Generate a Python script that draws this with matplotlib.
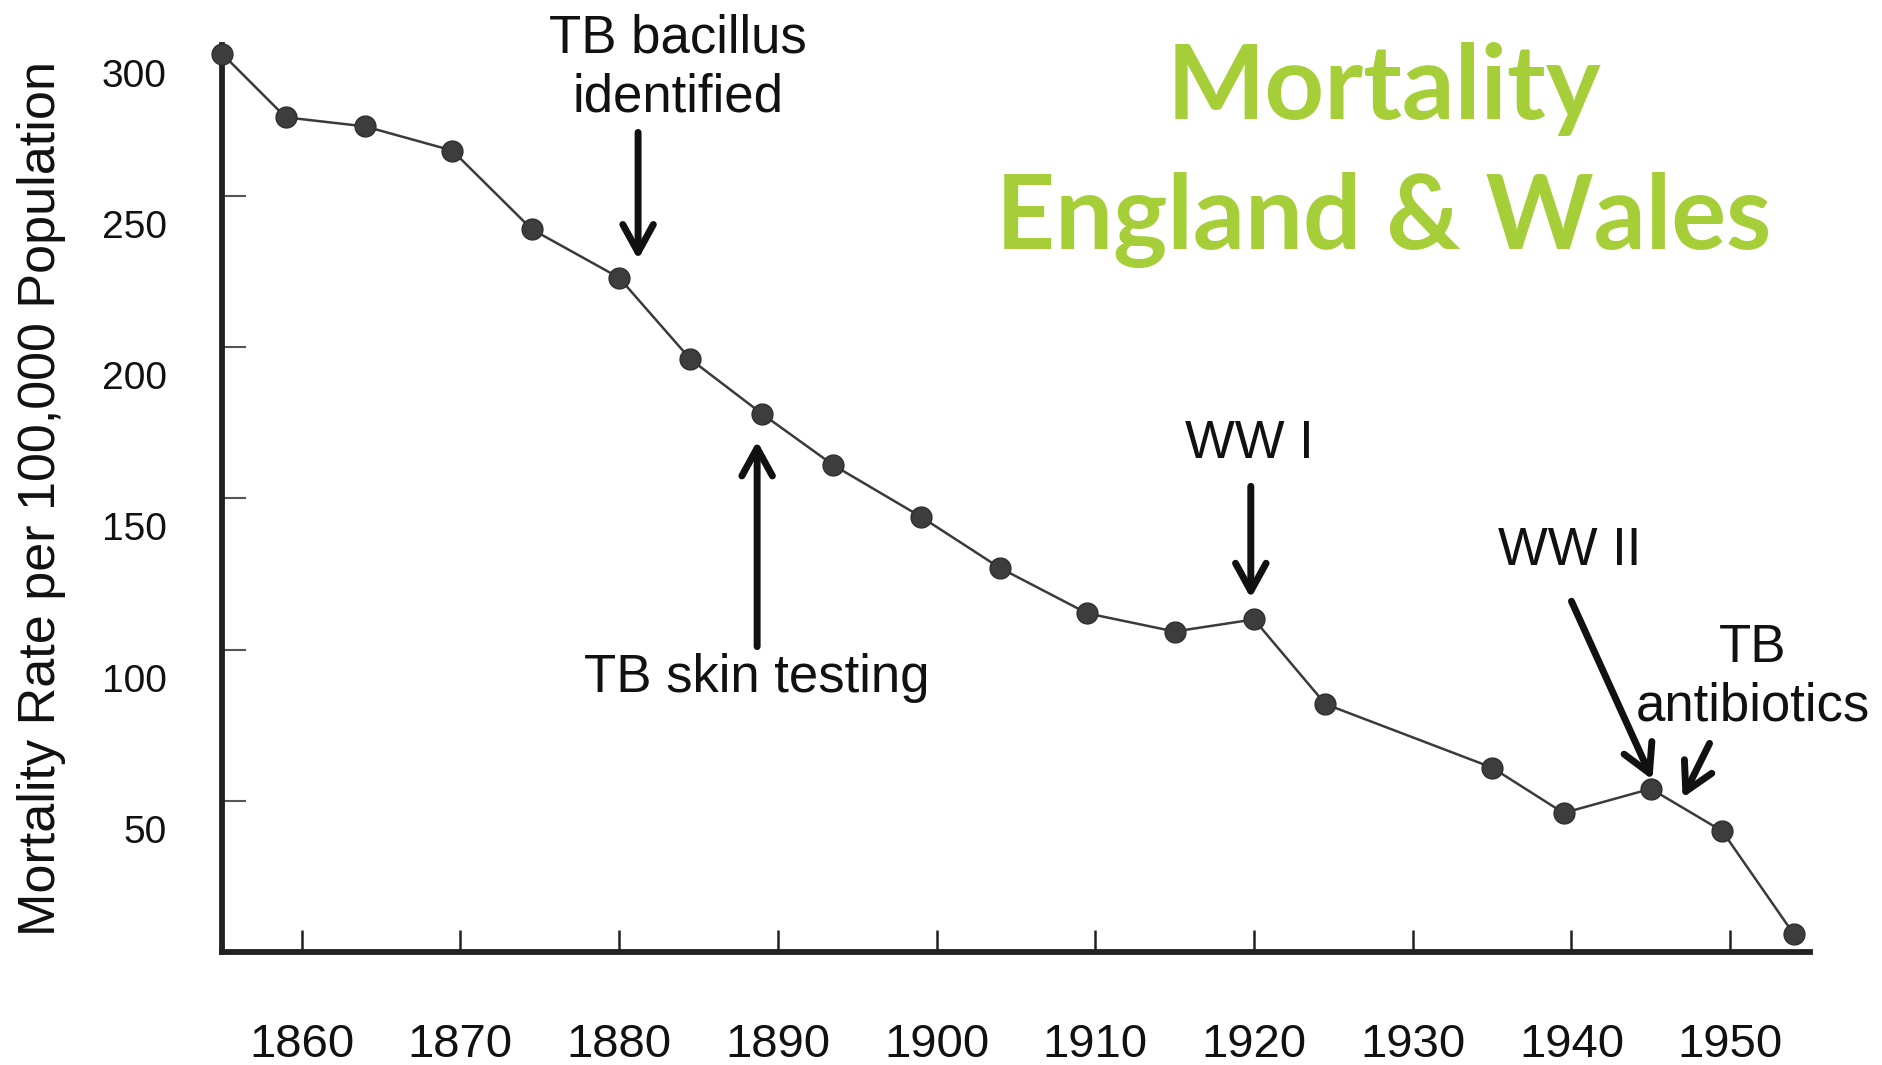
import matplotlib
matplotlib.use("Agg")
import matplotlib.pyplot as plt
import matplotlib.transforms as mtrans

plt.rcParams['font.family'] = ['Liberation Sans', 'DejaVu Sans']

# tuberculosis mortality, England & Wales
years = [1855, 1859, 1864, 1869.5, 1874.5, 1880, 1884.5, 1889, 1893.5, 1899,
         1904, 1909.5, 1915, 1920, 1924.5, 1935, 1939.5, 1945, 1949.5, 1954]
rates = [297, 276, 273, 265, 239, 223, 196, 178, 161, 144,
         127, 112, 106, 110, 82, 61, 46, 54, 40, 6]

xticks = [1860, 1870, 1880, 1890, 1900, 1910, 1920, 1930, 1940, 1950]
yticks = [50, 100, 150, 200, 250, 300]

# (label, baseline of last line, arrow tail, arrow tip)
notes = [
    ("TB bacillus\nidentified", (1883.7, 278), (1881.2, 271), (1881.2, 229)),
    ("TB skin testing", (1888.7, 86), (1888.7, 101), (1888.7, 169)),
    ("WW I", (1919.7, 163.5), (1919.8, 154), (1919.8, 117)),
    ("WW II", (1939.9, 128), (1940.0, 116), (1945.1, 57)),
    ("TB\nantibiotics", (1951.4, 76.5), (1948.7, 69), (1947.0, 51)),
]

fig = plt.figure(figsize=(18.83, 10.65), dpi=100, facecolor='white')
ax = fig.add_axes([0.118, 0.106, 0.843, 0.852])

ax.plot(years, rates, color='#3a3a3a', lw=1.8, marker='o', ms=15,
        mfc='#3d3d3d', mec='#2e2e2e', clip_on=False, zorder=3)

ax.set_xlim(1855, 1955)
ax.set_ylim(0, 300)
for s in ['top', 'right']:
    ax.spines[s].set_visible(False)
for s in ['left', 'bottom']:
    ax.spines[s].set_linewidth(4.2)
    ax.spines[s].set_color('#222222')

ax.set_xticks(xticks)
ax.set_yticks(yticks)
ax.tick_params(axis='x', direction='in', length=16, width=1.8, colors='#222222',
               labelsize=34, pad=51, labelcolor='#111111')
ax.tick_params(axis='y', direction='in', length=17, width=1.5, colors='#555555',
               labelsize=28, pad=40, labelcolor='#111111')
ax.yaxis.get_major_ticks()[-1].tick1line.set_visible(False)

# the y labels in the original sit a little below their ticks
shift = mtrans.ScaledTranslation(0, -0.28, fig.dpi_scale_trans)
for lab in ax.get_yticklabels():
    lab.set_transform(lab.get_transform() + shift)

fig.text(0.022, 0.532, "Mortality Rate per 100,000 Population", rotation=90,
         ha='center', va='center', fontsize=37.5, color='#111111')

for label, txt, tail, tip in notes:
    ax.text(txt[0], txt[1], label, ha='center', va='baseline', fontsize=38,
            color='#111111', linespacing=1.22)
    ax.annotate('', xy=tip, xytext=tail,
                arrowprops=dict(arrowstyle='->,head_length=2.0,head_width=1.1',
                                lw=5, color='#111111', shrinkA=0, shrinkB=0))

green = '#a6ce39'
fig.text(0.735, 0.888, "Mortality", ha='center', va='baseline', fontsize=75,
         fontweight='bold', family='Lato', color=green)
fig.text(0.735, 0.766, "England & Wales", ha='center', va='baseline', fontsize=74,
         fontweight='bold', family='Lato', color=green)

fig.savefig('out.png', dpi=100, facecolor='white')
